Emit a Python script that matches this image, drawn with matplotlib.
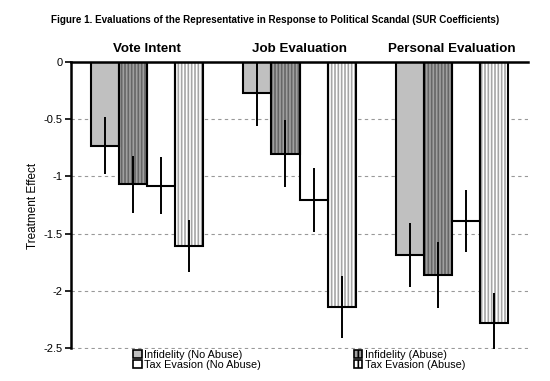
import matplotlib
matplotlib.use("Agg")
import matplotlib.pyplot as plt
from matplotlib.patches import Patch
import numpy as np

plt.rcParams['font.family'] = ['Liberation Sans', 'DejaVu Sans']

groups = ["Vote Intent", "Job Evaluation", "Personal Evaluation"]
series = ["Infidelity (No Abuse)", "Infidelity (Abuse)",
          "Tax Evasion (No Abuse)", "Tax Evasion (Abuse)"]
values = [
    [-0.73, -0.27, -1.69],   # Infidelity (No Abuse)
    [-1.07, -0.80, -1.86],   # Infidelity (Abuse)
    [-1.08, -1.21, -1.39],   # Tax Evasion (No Abuse)
    [-1.61, -2.14, -2.28],   # Tax Evasion (Abuse)
]
errors = [
    [0.25, 0.29, 0.28],
    [0.25, 0.29, 0.29],
    [0.25, 0.28, 0.27],
    [0.23, 0.27, 0.26],
]
yticks = [0, -0.5, -1, -1.5, -2, -2.5]
ytick_labels = ["0", "-0.5", "-1", "-1.5", "-2", "-2.5"]

face = ["#c0c0c0", "#a0a0a0", "#ffffff", "#ffffff"]
hatchc = [None, "#666666", None, "#a6a6a6"]
hatches = [None, "|||||", None, "|||||"]

plt.rcParams['hatch.linewidth'] = 1.2

fig = plt.figure(figsize=(5.5, 3.81), dpi=100)
ax = fig.add_axes([71/550, 1-349/381, (528-71)/550, (349-62)/381])

x = np.arange(len(groups))
w = 0.184
for i in range(4):
    pos = x + (i - 1.5) * w
    if hatches[i]:
        ax.bar(pos, values[i], w, color=face[i], hatch=hatches[i],
               edgecolor=hatchc[i], linewidth=0, zorder=2)
    else:
        ax.bar(pos, values[i], w, color=face[i], linewidth=0, zorder=2)
    ax.bar(pos, values[i], w, fill=False, edgecolor="black", linewidth=1.5, zorder=3)
    ax.errorbar(pos, values[i], yerr=errors[i], fmt="none", ecolor="black",
                elinewidth=1.4, capsize=0, zorder=4, clip_on=True)

ax.set_xlim(-0.5, 2.5)
ax.set_ylim(-2.5087, 0)
ax.set_yticks(yticks)
ax.set_yticklabels(ytick_labels, fontsize=8)
ax.set_xticks([])
ax.yaxis.grid(True, linestyle=(0, (3, 3)), color="#999999", linewidth=0.8, zorder=0)
ax.set_axisbelow(True)
for s in ["right", "bottom"]:
    ax.spines[s].set_visible(False)
ax.spines["left"].set_linewidth(1.8)
ax.spines["left"].set_bounds(-2.5, 0)
ax.spines["top"].set_linewidth(1.8)
ax.spines["left"].set_zorder(5)
ax.spines["top"].set_zorder(5)
ax.tick_params(axis="y", direction="out", length=4, width=1.2, pad=2)
ax.set_ylabel("Treatment Effect", fontsize=8.5, labelpad=3)

for gi, g in enumerate(groups):
    ax.text(gi, 0.06, g, ha="center", va="bottom", fontsize=9.6, fontweight="bold",
            transform=ax.transData, clip_on=False)

fig.text(0.5, 1-20/381, "Figure 1. Evaluations of the Representative in Response to Political Scandal (SUR Coefficients)",
         ha="center", va="center", fontsize=7.1, fontweight="bold")

handles = []
for i in range(4):
    if hatches[i]:
        handles.append(Patch(facecolor=face[i], hatch="|||", edgecolor="black", linewidth=1.2))
    else:
        handles.append(Patch(facecolor=face[i], edgecolor="black", linewidth=1.2))
order = [0, 2, 1, 3]
leg = fig.legend([handles[k] for k in order], [series[k] for k in order],
                 loc="upper left", bbox_to_anchor=(133/550, 1-350/381), ncol=2,
                 frameon=False, fontsize=7.8, handlelength=0.8, handleheight=0.8,
                 handletextpad=0.2, columnspacing=8.6, labelspacing=0.0,
                 borderpad=0, borderaxespad=0)

fig.savefig("out.png", dpi=100)
